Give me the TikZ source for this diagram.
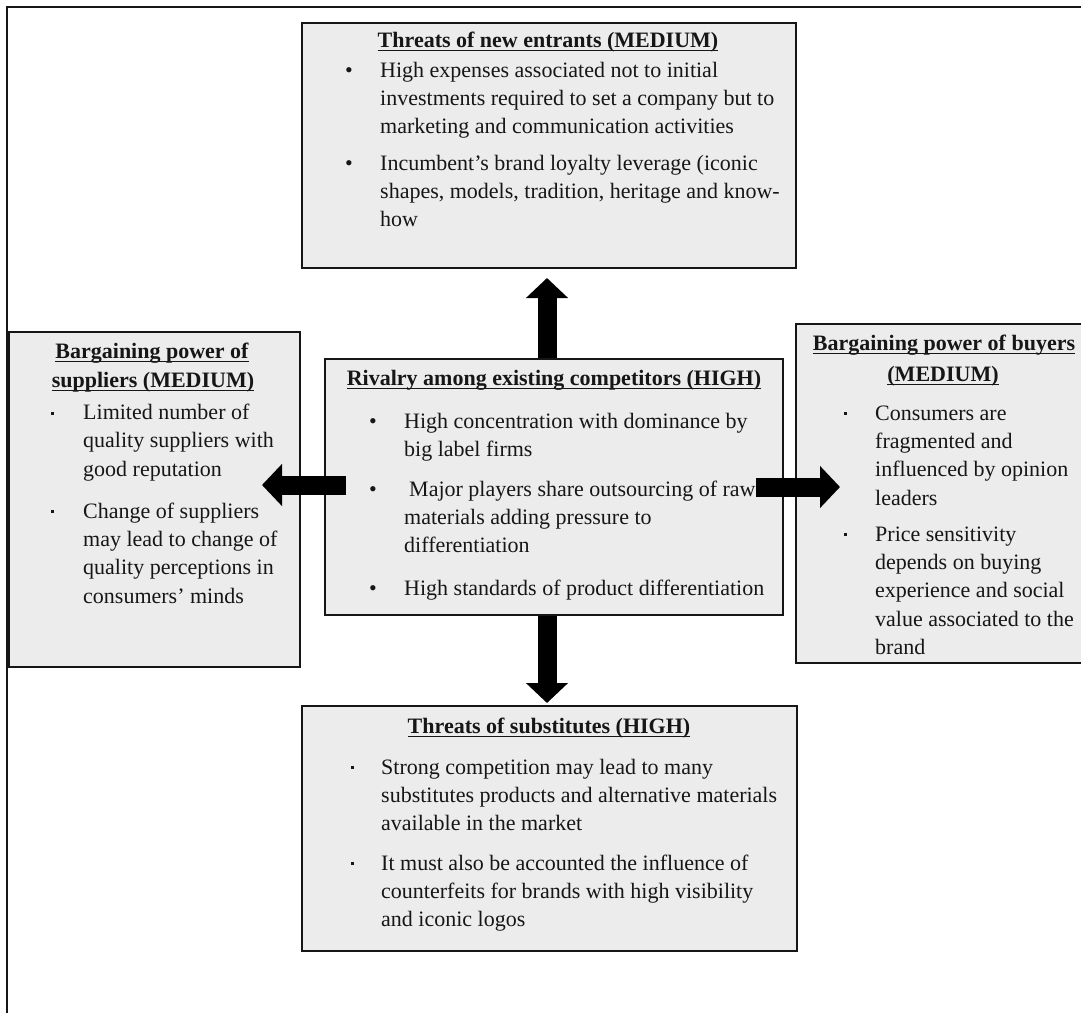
\documentclass[tikz,border=0pt]{standalone}
\usepackage{fontspec}
\setmainfont{Liberation Serif}
\usetikzlibrary{arrows.meta}

\definecolor{boxfill}{RGB}{236,236,236}
\definecolor{ink}{RGB}{22,22,22}

% multi-line text block whose baseline is the first line
\newcommand\paratext[1]{\begin{minipage}[t]{560pt}\raggedright #1\end{minipage}}
% heading text with a rule a little below the baseline
\newcommand\undl[1]{\setbox0=\hbox{#1}\leavevmode
  \rlap{\vrule width\wd0 height -3pt depth 4.3pt}\box0}

\tikzset{
  panel/.style={draw=ink, line width=1.4pt, fill=boxfill, rectangle, inner sep=0pt},
  heading/.style={anchor=base, inner sep=0pt, text=ink,
    font=\bfseries\fontsize{22}{28.4}\selectfont},
  para/.style={anchor=base west, inner sep=0pt, text=ink,
    font=\fontsize{22}{28.4}\selectfont},
  roundbul/.style={anchor=base, inner sep=0pt, text=ink,
    font=\fontsize{22}{28.4}\selectfont},
  sqbul/.style={fill=ink, minimum size=3pt, inner sep=0pt, rectangle},
  blockarrow/.style={draw=black, line width=19pt,
    -{Triangle[length=20pt,width=41pt]}},
  frameline/.style={line width=2pt, draw=ink},
}

\begin{document}
\begin{tikzpicture}[x=1pt, y=-1pt]
\useasboundingbox (0,0) rectangle (1081,1012);

% outer frame (top and left edges)
\draw[frameline] (7,1020) -- (7,7) -- (1090,7);

% ---------------- panels ----------------
\node[panel, minimum width=494pt, minimum height=245pt] (entrants) at (549,145.5) {};
\node[panel, minimum width=458pt, minimum height=256pt] (rivalry) at (554,487) {};
\node[panel, minimum width=291pt, minimum height=335pt] (suppliers) at (154.5,499.5) {};
\node[panel, minimum width=296pt, minimum height=339pt] (buyers) at (944,493.5) {};
\node[panel, minimum width=495pt, minimum height=245pt] (substitutes) at (549.5,828.5) {};

% ---------------- threats of new entrants ----------------
\node[heading] (entrantsTitle) at (548,47) {\undl{Threats of new entrants (MEDIUM)}};
\node[roundbul] (entrantsB1) at (349,77) {\textbullet};
\node[para] (entrantsT1) at (380,77) {\paratext{High expenses associated not to initial\\
  investments required to set a company but to\\
  marketing and communication activities}};
\node[roundbul] (entrantsB2) at (349,170) {\textbullet};
\node[para] (entrantsT2) at (380,170) {\paratext{Incumbent’s brand loyalty leverage (iconic\\
  shapes, models, tradition, heritage and know-\\
  how}};

% ---------------- rivalry ----------------
\node[heading] (rivalryTitle) at (554,385) {\undl{Rivalry among existing competitors (HIGH)}};
\node[roundbul] (rivalryB1) at (373,428) {\textbullet};
\node[para] (rivalryT1) at (404,428) {\paratext{High concentration with dominance by\\
  big label firms}};
\node[roundbul] (rivalryB2) at (373,496) {\textbullet};
\node[para] (rivalryT2) at (404,496) {\paratext{\hspace*{5pt}Major players share outsourcing of raw\\
  materials adding pressure to\\
  differentiation}};
\node[roundbul] (rivalryB3) at (373,595) {\textbullet};
\node[para] (rivalryT3) at (404,595) {\paratext{High standards of product differentiation}};

% ---------------- suppliers ----------------
\node[heading] (suppliersTitleA) at (152,358) {\undl{Bargaining power of}};
\node[heading] (suppliersTitleB) at (153,387) {\undl{suppliers (MEDIUM)}};
\node[sqbul] (suppliersB1) at (52,413) {};
\node[para] (suppliersT1) at (83,419.5) {\paratext{Limited number of\\
  quality suppliers with\\
  good reputation}};
\node[sqbul] (suppliersB2) at (52,511.5) {};
\node[para] (suppliersT2) at (83,518) {\paratext{Change of suppliers\\
  may lead to change of\\
  quality perceptions in\\
  consumers’ minds}};

% ---------------- buyers ----------------
\node[heading] (buyersTitleA) at (944,350) {\undl{Bargaining power of buyers}};
\node[heading] (buyersTitleB) at (943,381) {\undl{(MEDIUM)}};
\node[sqbul] (buyersB1) at (845,413.5) {};
\node[para] (buyersT1) at (875,420) {\paratext{Consumers are\\
  fragmented and\\
  influenced by opinion\\
  leaders}};
\node[sqbul] (buyersB2) at (845,534.5) {};
\node[para] (buyersT2) at (875,541) {\paratext{Price sensitivity\\
  depends on buying\\
  experience and social\\
  value associated to the\\
  brand}};

% ---------------- substitutes ----------------
\node[heading] (substitutesTitle) at (549,733) {\undl{Threats of substitutes (HIGH)}};
\node[sqbul] (substitutesB1) at (352,767.5) {};
\node[para] (substitutesT1) at (381,774) {\paratext{Strong competition may lead to many\\
  substitutes products and alternative materials\\
  available in the market}};
\node[sqbul] (substitutesB2) at (352,863.5) {};
\node[para] (substitutesT2) at (381,870) {\paratext{It must also be accounted the influence of\\
  counterfeits for brands with high visibility\\
  and iconic logos}};

% ---------------- block arrows out of the rivalry panel ----------------
\coordinate (upTip) at (547,278);
\coordinate (downTip) at (547,703);
\coordinate (leftTail) at (346,485);
\coordinate (leftTip) at (262,485);
\coordinate (rightTail) at (756,487);
\coordinate (rightTip) at (840,487);

\draw[blockarrow] (rivalry.north -| upTip) -- (upTip);
\draw[blockarrow] (rivalry.south -| downTip) -- (downTip);
\draw[blockarrow] (leftTail) -- (leftTip);
\draw[blockarrow] (rightTail) -- (rightTip);
\end{tikzpicture}
\end{document}
